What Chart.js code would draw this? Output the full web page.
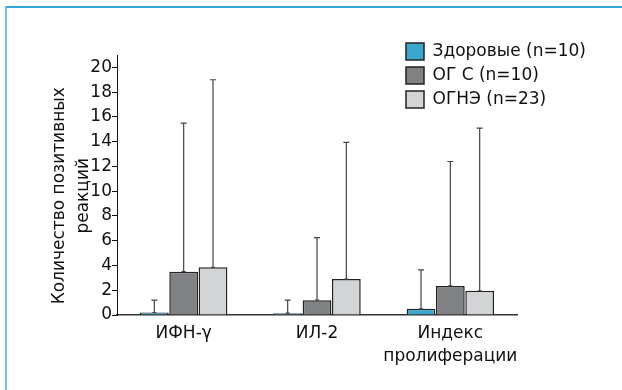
<!DOCTYPE html>
<html>
<head>
<meta charset="utf-8">
<script src="https://cdn.jsdelivr.net/npm/chart.js@4"></script>
<style>
  body { margin: 0; background: #fff; }
  #frame { position: absolute; left: 5px; top: 6px; width: 700px; height: 500px;
           border-top: 2px solid #33a6da; border-left: 2px solid #6cc6ee; }
  #wrap { position: absolute; left: 0; top: 0; width: 622px; height: 390px; }
</style>
</head>
<body>
<div id="frame"></div>
<div id="wrap"><canvas id="myChart" width="622" height="390"></canvas></div>

<script>

const categories = ['ИФН-γ', 'ИЛ-2', ['Индекс', 'пролиферации']];
const seriesNames = ['Здоровые (n=10)', 'ОГ С (n=10)', 'ОГНЭ (n=23)'];

const healthy = [0.2, 0.15, 0.5];
const ogc = [3.5, 1.2, 2.35];
const ogne = [3.85, 2.9, 1.95];

// upper end of the error bars
const healthyErr = [1.2, 1.2, 3.65];
const ogcErr = [15.5, 6.25, 12.4];
const ogneErr = [19.0, 13.95, 15.1];

const yTicks = [0, 2, 4, 6, 8, 10, 12, 14, 16, 18, 20];

// trailing spaces push the rotated title a bit lower, like the original
const yTitle = ['Количество позитивных    ', 'реакций    '];


const font = { family: 'DejaVu Sans, sans-serif', size: 17, lineHeight: 1.3 };


const errorBars = {
  id: 'errorBars',
  afterDatasetsDraw(chart) {
    const ctx = chart.ctx;
    const y = chart.scales.y;
    chart.data.datasets.forEach((ds, i) => {
      const meta = chart.getDatasetMeta(i);
      meta.data.forEach((bar, j) => {
        const top = y.getPixelForValue(ds.errTop[j]);
        ctx.save();
        ctx.strokeStyle = '#444';
        ctx.lineWidth = 1.2;
        ctx.beginPath();
        ctx.moveTo(bar.x, bar.y);
        ctx.lineTo(bar.x, top);
        ctx.moveTo(bar.x - 3, top);
        ctx.lineTo(bar.x + 3, top);
        ctx.moveTo(bar.x - 2, bar.y);
        ctx.lineTo(bar.x + 2, bar.y);
        ctx.stroke();
        ctx.restore();
      });
    });
  }
};

// legend sits inside the plot, top right
const moveLegend = {
  id: 'moveLegend',
  afterLayout(chart) {
    const lg = chart.legend;
    lg.left = 399;
    lg.top = 36;
    lg.right = 622;
    lg.bottom = 120;
    lg.width = lg.right - lg.left;
    lg.height = lg.bottom - lg.top;
  }
};


const ctx = document.getElementById('myChart');

new Chart(ctx, {
  type: 'bar',
  data: {
    labels: categories,
    datasets: [
      { label: seriesNames[0], data: healthy, errTop: healthyErr, backgroundColor: '#3aa8cc' },
      { label: seriesNames[1], data: ogc, errTop: ogcErr, backgroundColor: '#808183' },
      { label: seriesNames[2], data: ogne, errTop: ogneErr, backgroundColor: '#d3d4d6' }
    ]
  },
  options: {
    responsive: false,
    animation: false,
    layout: { padding: { left: 40, right: 105, top: 55, bottom: 0 } },
    datasets: {
      bar: { borderColor: '#222', borderWidth: 1.5, categoryPercentage: 0.66, barPercentage: 0.98 }
    },
    plugins: {
      legend: {
        position: 'chartArea',
        align: 'start',
        labels: { font: font, color: '#111', boxWidth: 18, boxHeight: 17, padding: 7 }
      },
      tooltip: { enabled: false }
    },
    scales: {
      x: {
        grid: { display: false, drawTicks: false },
        border: { color: '#333', width: 1.5 },
        ticks: { font: font, color: '#111', padding: 8, maxRotation: 0, minRotation: 0, autoSkip: false },
        afterFit: (s) => { s.height = 75; }
      },
      y: {
        min: 0,
        max: 21,
        afterBuildTicks: (s) => { s.ticks = yTicks.map(v => ({ value: v })); },
        grid: { drawOnChartArea: false, drawTicks: true, tickLength: 5, color: '#111' },
        border: { color: '#111', width: 1 },
        ticks: { font: font, color: '#111', padding: 0 },
        title: {
          display: true,
          text: yTitle,
          font: { family: font.family, size: 17, lineHeight: 1.45 },
          color: '#111',
          padding: { top: 7, bottom: 0 }
        },
        afterFit: (s) => { s.width = 77; }
      }
    }
  },
  plugins: [errorBars, moveLegend]
});

</script>
</body>
</html>
